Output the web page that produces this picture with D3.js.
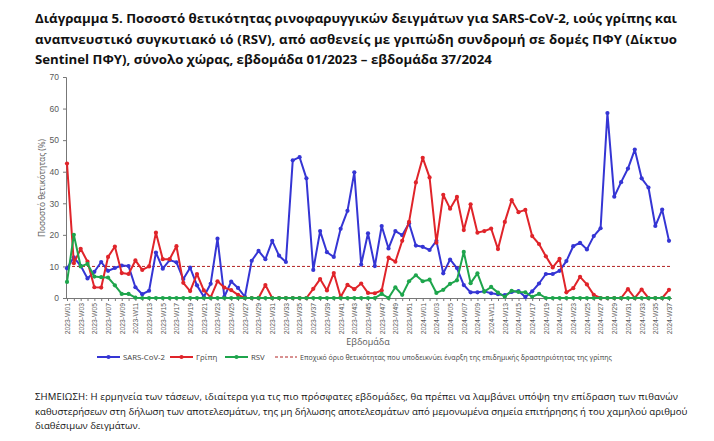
<!DOCTYPE html>
<html>
<head>
<meta charset="utf-8">
<script src="https://cdn.jsdelivr.net/npm/d3@7"></script>
<style>
  body { margin: 0; background: #fff; }
  svg { display: block; font-family: "Open Sans", "Noto Sans", sans-serif; }
</style>
</head>
<body>
<svg id="chart" width="714" height="441"></svg>
<script>
// weeks 2023-W01 .. 2024-W37
const weeks = [];
for (let w = 1; w <= 52; w++) weeks.push(`2023-W${String(w).padStart(2, "0")}`);
for (let w = 1; w <= 37; w++) weeks.push(`2024-W${String(w).padStart(2, "0")}`);

const sars = [9.4, 12.9, 10.2, 6.2, 8.3, 11.4, 8.6, 9.5, 10.3, 10.1, 3.4, 1.2, 2.3, 14.4, 9.3, 12, 11.3, 6, 9.6, 4,
  0.4, 4.5, 18.8, 0.4, 5.2, 3.2, 0.4, 11.8, 14.9, 12.3, 18.1, 13.4, 11.4, 43.6, 44.6, 37.9, 8.9, 21.2, 14.5, 13,
  21.9, 27.6, 39.8, 10.6, 20.5, 10.1, 22.8, 15.7, 21.2, 19.9, 23.7, 16.6, 16.2, 15.2, 18.1, 7.8, 12.2, 9.5, 4.1, 1.8,
  1.8, 2.1, 1.5, 1.2, 0.9, 1.9, 2.2, 0.3, 2.1, 4.6, 7.6, 7.6, 8.6, 11.7, 16.4, 17.5, 15.4, 19.6, 22.1, 58.6,
  32.1, 36.7, 41, 47, 37.9, 35, 22.8, 28, 18.1];

const flu = [42.6, 11, 15.6, 11.5, 3.4, 3.3, 13, 16.3, 7.9, 7.6, 11.9, 8.9, 10, 20.7, 12.3, 12.3, 16.4, 4.8, 2.2, 7.6,
  2.4, 0.2, 5.3, 3.3, 2.5, 1, 0, 0, 0, 4.1, 0, 0, 0, 0, 0, 0, 2.9, 6, 2.4, 7.9,
  0.3, 4.2, 2.8, 4.6, 1.6, 1.5, 2.4, 12.8, 11.5, 18.1, 24.1, 36.6, 44.4, 38.2, 17.5, 32.7, 28.3, 32, 21.5, 29.7,
  20.7, 21.2, 22, 15.5, 24.1, 31, 27.2, 27.9, 19.6, 17.1, 13.2, 9.7, 12.4, 1.8, 3.1, 6.7, 4.3, 1, 0, 0,
  0, 0, 2.8, 0, 2.7, 0, 0, 0, 2.6];

const rsv = [5.1, 20, 10, 10.8, 6.8, 6.6, 6.5, 4, 1.3, 1.3, 0.1, 0, 0, 0, 0, 0, 0, 0, 0, 0,
  0, 0, 0, 0, 0, 0, 0, 0, 0, 0, 0, 0, 0, 0, 0, 0, 0, 0, 0, 0,
  0, 0, 0, 0, 0, 0, 1.3, 0, 3.4, 1, 5.3, 7.2, 5.3, 5.8, 1.6, 2.6, 4.5, 5.6, 14.6, 4.7,
  7.8, 2, 3.5, 1.7, 0.4, 2.3, 1.9, 1.8, 0.4, 1.3, 0, 0, 0, 0, 0, 0, 0, 0, 0, 0,
  0, 0, 0, 0, 0, 0, 0, 0, 0];

const threshold = 10;
const yTicks = [0, 10, 20, 30, 40, 50, 60, 70];

const titleLines = [
  "Διάγραμμα 5. Ποσοστό θετικότητας ρινοφαρυγγικών δειγμάτων για SARS-CoV-2, ιούς γρίπης και",
  "αναπνευστικό συγκυτιακό ιό (RSV), από ασθενείς με γριπώδη συνδρομή σε δομές ΠΦΥ (Δίκτυο",
  "Sentinel ΠΦΥ), σύνολο χώρας, εβδομάδα 01/2023 – εβδομάδα 37/2024"
];
const noteLines = [
  "ΣΗΜΕΙΩΣΗ: Η ερμηνεία των τάσεων, ιδιαίτερα για τις πιο πρόσφατες εβδομάδες, θα πρέπει να λαμβάνει υπόψη την επίδραση των πιθανών",
  "καθυστερήσεων στη δήλωση των αποτελεσμάτων, της μη δήλωσης αποτελεσμάτων από μεμονωμένα σημεία επιτήρησης ή του χαμηλού αριθμού",
  "διαθέσιμων δειγμάτων."
];

const series = [
  { name: "SARS-CoV-2", values: sars, color: "#3535d4" },
  { name: "Γρίπη", values: flu, color: "#e0242a" },
  { name: "RSV", values: rsv, color: "#1ea54c" }
];

const svg = d3.select("#chart");

const x = d3.scalePoint().domain(weeks).range([67, 669]);
const y = d3.scaleLinear().domain([0, 70]).range([298, 77]);

// title: font size picked so the first line fills the width like the reference
const title = svg.append("g").attr("font-weight", "bold").attr("fill", "#111")
  .attr("font-family", "'Open Sans', 'Noto Sans', sans-serif");
const titleEls = titleLines.map((t, i) =>
  title.append("text").attr("x", 35).attr("y", 23 + i * 20.5).attr("font-size", 15).text(t));
const w0 = titleEls[0].node().getComputedTextLength();
const titleSize = Math.min(15.5, 15 * 642 / w0);
titleEls.forEach((el, i) => {
  el.attr("font-size", titleSize);
  const w = el.node().getComputedTextLength();
  if (i < 2 && w < 642) el.attr("textLength", 642).attr("lengthAdjust", "spacing");
});

// threshold line
svg.append("line")
  .attr("x1", 67).attr("x2", 672)
  .attr("y1", y(threshold)).attr("y2", y(threshold))
  .attr("stroke", "#b22222").attr("stroke-width", 1)
  .attr("stroke-dasharray", "3,2");

// axes
const yAxis = svg.append("g")
  .attr("transform", "translate(66,0)")
  .call(d3.axisLeft(y).tickValues(yTicks).tickSize(3).tickPadding(4));
yAxis.select(".domain").attr("stroke", "#777");
yAxis.selectAll(".tick line").attr("stroke", "#777");
yAxis.selectAll(".tick text").attr("fill", "#595959").attr("font-size", 8.5);

const xAxis = svg.append("g")
  .attr("transform", "translate(0,298)")
  .call(d3.axisBottom(x).tickSize(3).tickSizeOuter(0)
    .tickFormat((d, i) => (i % 2 == 0 ? d : "")));
xAxis.select(".domain").attr("stroke", "#777").attr("d", "M66,0.5H672");
xAxis.selectAll(".tick line").attr("stroke", "#777");
xAxis.selectAll(".tick text")
  .attr("fill", "#595959").attr("font-size", 6.8)
  .attr("text-anchor", "end")
  .attr("transform", "rotate(-90)")
  .attr("x", -5).attr("y", 0).attr("dy", "0.35em");

svg.append("text")
  .attr("transform", "translate(45,188) rotate(-90)")
  .attr("text-anchor", "middle").attr("font-size", 8.3).attr("fill", "#595959")
  .text("Ποσοστό θετικότητας (%)");

svg.append("text")
  .attr("x", 368).attr("y", 345)
  .attr("text-anchor", "middle").attr("font-size", 9).attr("fill", "#595959")
  .text("Εβδομάδα");

// lines and markers
const line = d3.line().x((d, i) => x(weeks[i])).y(d => y(d));
series.forEach(s => {
  svg.append("path")
    .attr("d", line(s.values))
    .attr("fill", "none").attr("stroke", s.color)
    .attr("stroke-width", 2).attr("stroke-linejoin", "round");
  svg.append("g").selectAll("circle")
    .data(s.values)
    .join("circle")
    .attr("cx", (d, i) => x(weeks[i]))
    .attr("cy", d => y(d))
    .attr("r", 2.1)
    .attr("fill", s.color);
});

// legend
const legend = svg.append("g").attr("font-size", 7.8).attr("fill", "#404040");
const legendX = [97, 170, 225];
series.forEach((s, i) => {
  const lx = legendX[i];
  legend.append("line")
    .attr("x1", lx).attr("x2", lx + 23).attr("y1", 357).attr("y2", 357)
    .attr("stroke", s.color).attr("stroke-width", 2);
  legend.append("circle").attr("cx", lx + 11.5).attr("cy", 357).attr("r", 2.1).attr("fill", s.color);
  legend.append("text").attr("x", lx + 26).attr("y", 360).text(s.name);
});
legend.append("line")
  .attr("x1", 275).attr("x2", 297).attr("y1", 357).attr("y2", 357)
  .attr("stroke", "#b22222").attr("stroke-width", 1).attr("stroke-dasharray", "3,2");
legend.append("text").attr("x", 300).attr("y", 360)
  .attr("textLength", 312).attr("lengthAdjust", "spacingAndGlyphs")
  .text("Εποχικό όριο θετικότητας που υποδεικνύει έναρξη της επιδημικής δραστηριότητας της γρίπης");

// note under the chart
const note = svg.append("g").attr("font-size", 9.6).attr("fill", "#111");
noteLines.forEach((t, i) => {
  const el = note.append("text").attr("x", 35).attr("y", 400 + i * 14.5).text(t);
  const w = el.node().getComputedTextLength();
  if (i < 2 && w < 643) el.attr("textLength", 643).attr("lengthAdjust", "spacing");
});
</script>
</body>
</html>
